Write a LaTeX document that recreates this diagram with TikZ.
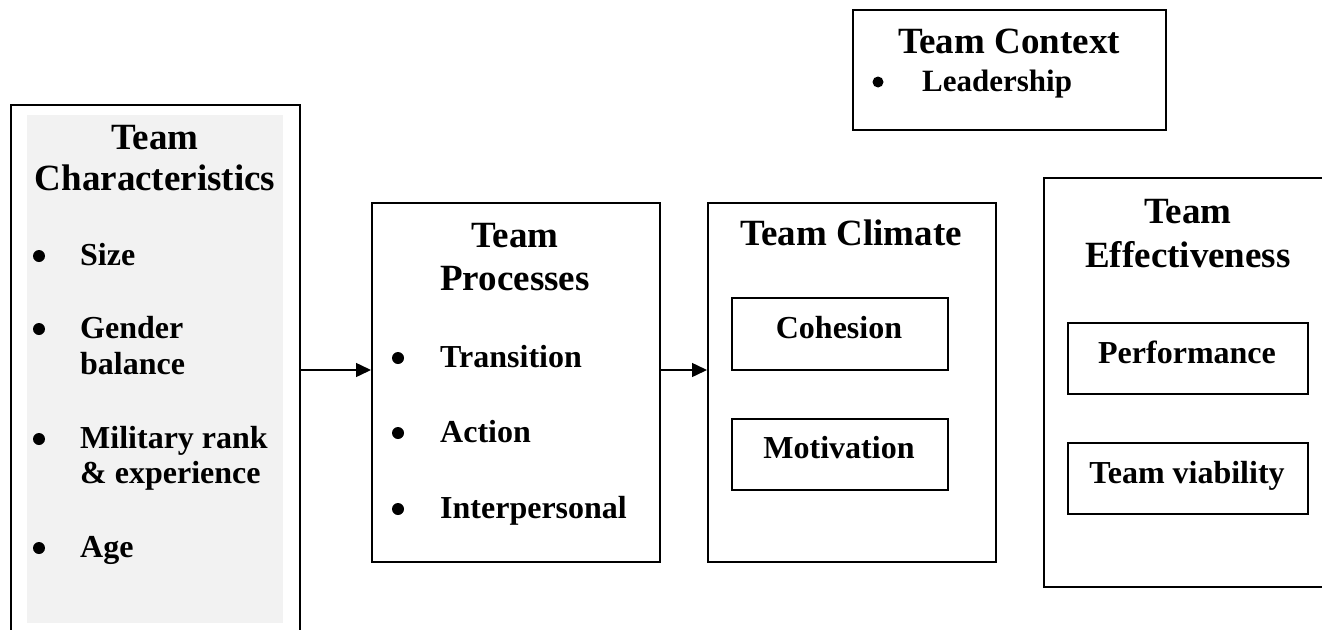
\documentclass[tikz,border=0pt]{standalone}
\usepackage{fontspec}
\setmainfont{Liberation Serif}
\usetikzlibrary{arrows.meta}
\definecolor{panel}{HTML}{F2F2F2}
\begin{document}
\begin{tikzpicture}[x=1pt,y=-1pt,
  box/.style={draw=black,line width=1.6pt,rectangle,inner sep=0pt,anchor=north west},
  ttl/.style={font=\fontsize{37}{42}\selectfont\bfseries,anchor=base,inner sep=0pt},
  itm/.style={font=\fontsize{32}{36}\selectfont\bfseries,anchor=base west,inner sep=0pt},
  ctr/.style={font=\fontsize{32}{36}\selectfont\bfseries,anchor=base,inner sep=0pt},
  bul/.style={circle,fill=black,inner sep=0pt,minimum size=12pt},
  arr/.style={line width=1.5pt,-{Triangle[length=15pt,width=14pt]}}]
\useasboundingbox (0,0) rectangle (1322,629);
\clip (0,0) rectangle (1322,629);
\fill[white] (0,0) rectangle (1322,629);

% boxes
\node[box,minimum width=289pt,minimum height=560pt] (chr) at (10,104) {};
\node[anchor=north west,fill=panel,inner sep=0pt,minimum width=256pt,minimum height=508pt] (chrbg) at (27,115) {};
\node[box,minimum width=288pt,minimum height=359pt] (proc) at (371,202) {};
\node[box,minimum width=288pt,minimum height=359pt] (clim) at (707,202) {};
\node[box,minimum width=216pt,minimum height=72pt] (coh) at (731,297) {};
\node[box,minimum width=216pt,minimum height=71pt] (mot) at (731,418) {};
\node[box,minimum width=313pt,minimum height=120pt] (ctx) at (852,9) {};
\node[box,minimum width=300pt,minimum height=409pt] (eff) at (1043,177) {};
\node[box,minimum width=240pt,minimum height=71pt] (perf) at (1067,322) {};
\node[box,minimum width=240pt,minimum height=71pt] (viab) at (1067,442) {};

% Team Characteristics
\node[ttl] (chrt1) at (155,149) {Team};
\node[ttl] (chrt2) at (155,190) {Characteristics};
\node[bul] (b1) at (39,256) {};
\node[itm] (i1) at (80,265) {Size};
\node[bul] (b2) at (39,329) {};
\node[itm] (i2) at (80,338) {Gender};
\node[itm] (i2b) at (80,374) {balance};
\node[bul] (b3) at (39,439) {};
\node[itm] (i3) at (80,448) {Military rank};
\node[itm] (i3b) at (80,483) {\& experience};
\node[bul] (b4) at (39,548) {};
\node[itm] (i4) at (80,557) {Age};

% Team Processes
\node[ttl] (proct1) at (515,247) {Team};
\node[ttl] (proct2) at (515,290) {Processes};
\node[bul] (p1) at (398,358) {};
\node[itm] (pi1) at (440,367) {Transition};
\node[bul] (p2) at (398,433) {};
\node[itm] (pi2) at (440,442) {Action};
\node[bul] (p3) at (398,509) {};
\node[itm] (pi3) at (440,518) {Interpersonal};

% Team Climate
\node[ttl] (climt) at (851,245) {Team Climate};
\node[ctr] (cohl) at (839,338) {Cohesion};
\node[ctr] (motl) at (839,458) {Motivation};

% Team Context
\node[ttl] (ctxt) at (1009,53) {Team Context};
\node[bul,minimum size=11pt] (c1) at (878,82) {};
\node[itm,font=\fontsize{31}{35}\selectfont\bfseries] (ci1) at (922,91) {Leadership};

% Team Effectiveness
\node[ttl] (efft1) at (1188,223) {Team};
\node[ttl] (efft2) at (1188,267) {Effectiveness};
\node[ctr] (perfl) at (1187,363) {Performance};
\node[ctr] (viabl) at (1187,483) {Team viability};

% connectors
\coordinate (lvl) at (0,370);
\draw[arr] (chr.east |- lvl) -- (proc.west |- lvl);
\draw[arr] (proc.east |- lvl) -- (clim.west |- lvl);
\end{tikzpicture}
\end{document}
